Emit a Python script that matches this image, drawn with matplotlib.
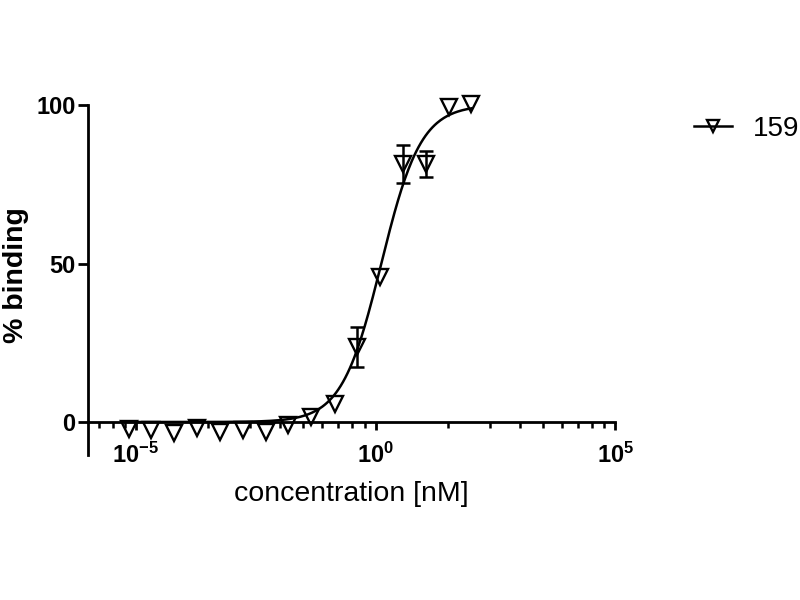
import matplotlib

matplotlib.use("Agg")
import matplotlib.pyplot as plt
import numpy as np
from matplotlib.ticker import FixedLocator, NullFormatter

plt.rcParams["font.family"] = ["Liberation Sans", "DejaVu Sans"]
plt.rcParams["mathtext.fontset"] = "custom"
plt.rcParams["mathtext.rm"] = "Liberation Sans:bold"
plt.rcParams["mathtext.bf"] = "Liberation Sans:bold"

# half-log dilution series, 100 nM top
conc_nM = [7.0e-6, 2.1e-5, 6.3e-5, 1.9e-4, 5.6e-4, 1.7e-3, 5.1e-3, 1.5e-2,
           4.6e-2, 0.14, 0.41, 1.23, 3.7, 11.1, 33.3, 100.0]
binding = [-2.2, -2.5, -3.4, -1.9, -3.0, -2.5, -3.0, -0.8,
           1.5, 5.6, 23.6, 45.6, 81.4, 81.4, 99.4, 100.3]
binding_err = [0, 0, 0, 0, 0, 0, 0, 0, 0, 0, 6.3, 0, 6.0, 4.0, 0, 0]
series_name = "159"

# fitted curve parameters (log EC50, Hill slope, bottom, top)
log_ec50 = 0.12
hill = 1.05
bottom, top = 0.0, 100.0

x_ticks = [1e-5, 1e0, 1e5]
x_tick_labels = [r"$\mathbf{10^{-5}}$", r"$\mathbf{10^{0}}$", r"$\mathbf{10^{5}}$"]
y_ticks = [0, 50, 100]

fig = plt.figure(figsize=(8, 6), dpi=100)
ax = fig.add_axes([0.11, 0.2417, 0.659, 0.5833])

xfit = np.logspace(np.log10(conc_nM[0]), np.log10(conc_nM[-1]), 300)
yfit = bottom + (top - bottom) / (1 + 10 ** ((log_ec50 - np.log10(xfit)) * hill))
ax.plot(xfit, yfit, color="black", lw=1.8, zorder=2)

idx = [i for i, e in enumerate(binding_err) if e > 0]
ax.errorbar([conc_nM[i] for i in idx], [binding[i] for i in idx],
            yerr=[binding_err[i] for i in idx], fmt="none", ecolor="black",
            elinewidth=1.8, capsize=5, capthick=1.8, zorder=2)
ax.plot(conc_nM, binding, linestyle="none", marker="v", markersize=12,
        markerfacecolor="none", markeredgecolor="black", markeredgewidth=1.7,
        zorder=3, clip_on=False)

ax.set_xscale("log")
ax.set_xlim(1e-6, 1e5)
ax.set_ylim(-10.4, 100)

ax.spines["top"].set_visible(False)
ax.spines["right"].set_visible(False)
ax.spines["bottom"].set_position(("data", 0))
for s in ("left", "bottom"):
    ax.spines[s].set_linewidth(2)

# Prism-style minor ticks: k^5 subdivisions of each 10^5 major step
minor = [k ** 5 * 10.0 ** m for m in (-10, -5, 0) for k in range(2, 10)]
minor = [v for v in minor if 1e-6 <= v <= 1e5]
ax.xaxis.set_major_locator(FixedLocator(x_ticks))
ax.set_xticklabels(x_tick_labels)
ax.xaxis.set_minor_locator(FixedLocator(minor))
ax.xaxis.set_minor_formatter(NullFormatter())
ax.set_yticks(y_ticks)
ax.set_yticklabels([str(v) for v in y_ticks], fontweight="bold")

ax.tick_params(axis="x", which="major", length=6, width=2, pad=9, labelsize=17)
ax.tick_params(axis="x", which="minor", length=4, width=1.8)
ax.tick_params(axis="y", which="major", length=7, width=2, pad=2, labelsize=17)

ax.set_xlabel("concentration [nM]", fontsize=20.5)
ax.set_ylabel("% binding", fontsize=20.5, fontweight="bold")
ax.xaxis.set_label_coords(0.5, -0.075)
ax.yaxis.set_label_coords(-0.111, 0.514)

handle, = ax.plot([], [], color="black", lw=1.8, marker="v", markersize=9,
                  markerfacecolor="none", markeredgecolor="black",
                  markeredgewidth=1.7)
fig.legend([handle], [series_name], loc="center left",
           bbox_to_anchor=(0.868, 0.785), frameon=False, fontsize=20,
           handlelength=1.35, handletextpad=0.75, borderpad=0, borderaxespad=0)

fig.savefig("out.png", dpi=100)
